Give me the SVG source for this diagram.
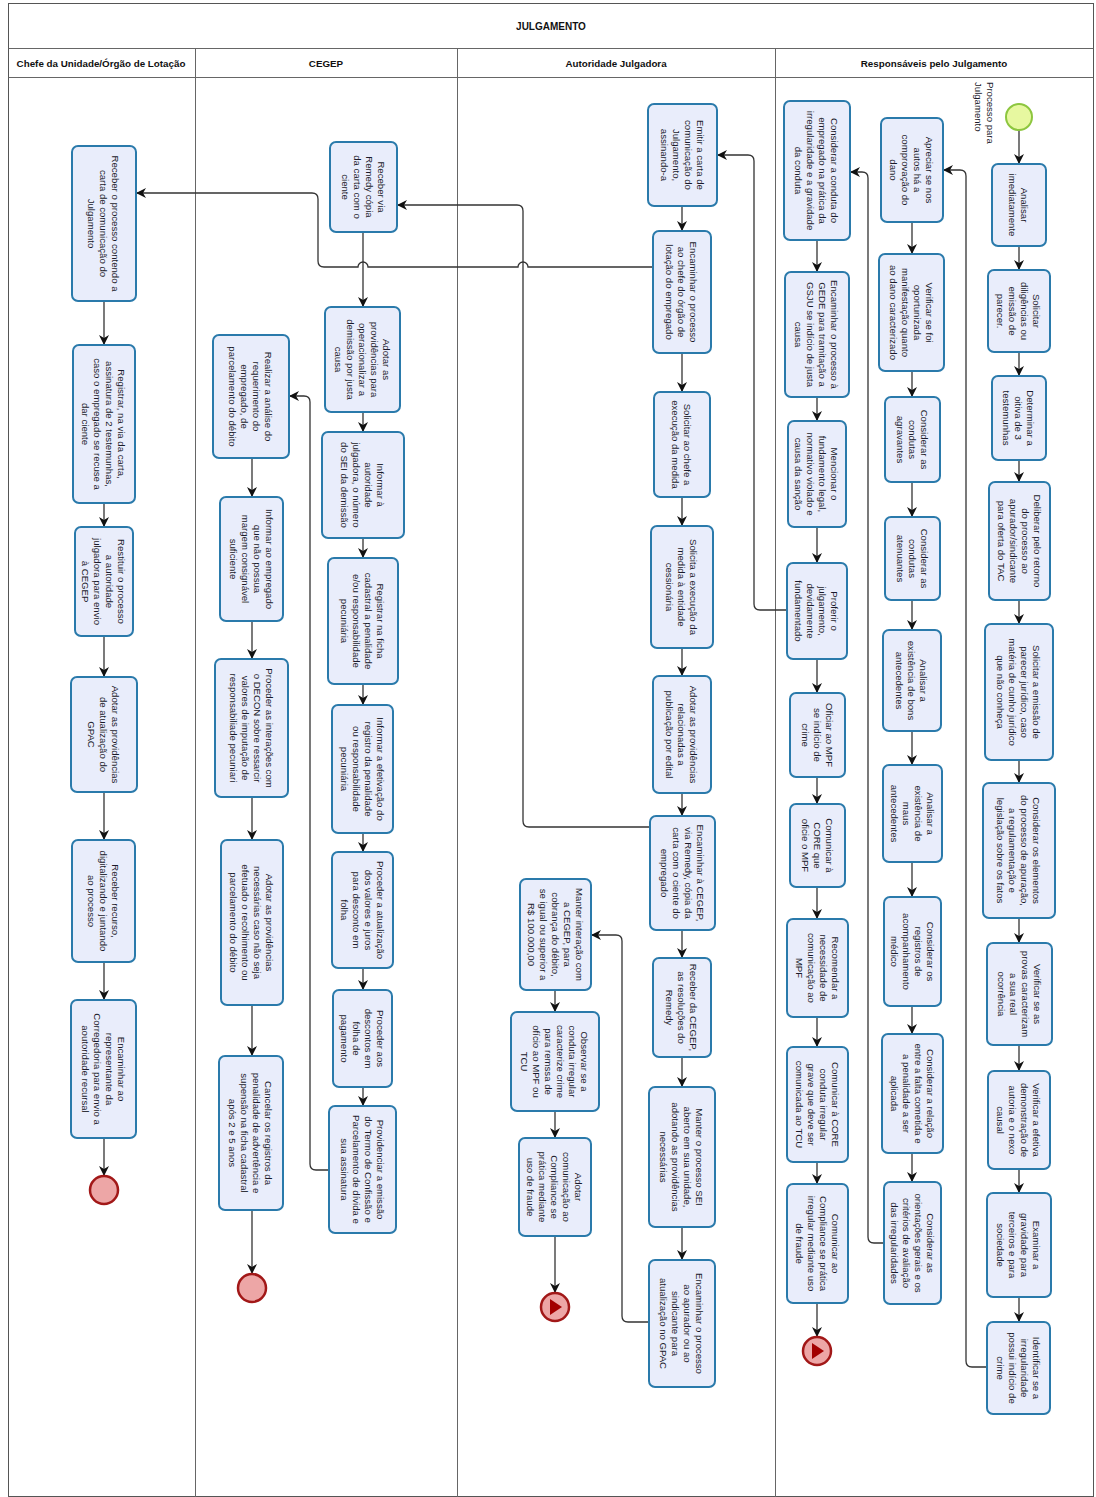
<svg xmlns="http://www.w3.org/2000/svg" width="1096" height="1497" viewBox="0 0 1096 1497">
<style>
.box{fill:#E9EDFB;stroke:#2A7AAB;stroke-width:2}
.t{font-family:"Liberation Sans",Arial,sans-serif;font-size:9.6px;fill:#1a1a2a;text-anchor:middle;dominant-baseline:central}
.h{font-family:"Liberation Sans",Arial,sans-serif;font-size:9.8px;font-weight:bold;fill:#111;text-anchor:middle;dominant-baseline:central}
.lane{stroke:#666;stroke-width:1;fill:none}
.c{stroke:#333;stroke-width:1.3;fill:none;marker-end:url(#ah)}
.end{fill:#EDA6A6;stroke:#A21818;stroke-width:2.5}
.tri{fill:#A30000}
</style>
<defs>
<marker id="ah" viewBox="0 0 10 10" refX="10" refY="5" markerWidth="10" markerHeight="10" orient="auto" markerUnits="userSpaceOnUse">
<path d="M0,0 L10,5 L0,10 L3,5 z" fill="#111"/>
</marker>
</defs>
<rect x="0" y="0" width="1096" height="1497" fill="#fff"/>
<g id="pool">
<rect x="8.5" y="3.5" width="1085" height="1493" fill="none" stroke="#555" stroke-width="1"/>
<line class="lane" x1="8.5" y1="48.5" x2="1093.5" y2="48.5"/>
<line class="lane" x1="8.5" y1="77.5" x2="1093.5" y2="77.5"/>
<line class="lane" x1="195.5" y1="48.5" x2="195.5" y2="1497"/>
<line class="lane" x1="457.5" y1="48.5" x2="457.5" y2="1497"/>
<line class="lane" x1="775.5" y1="48.5" x2="775.5" y2="1497"/>
<text class="h" x="551" y="26" style="font-size:10px">JULGAMENTO</text>
<text class="h" x="101" y="63">Chefe da Unidade/Órgão de Lotação</text>
<text class="h" x="326" y="63">CEGEP</text>
<text class="h" x="616" y="63">Autoridade Julgadora</text>
<text class="h" x="934" y="63">Responsáveis pelo Julgamento</text>
</g>

<g id="connectors">
<path class="c" d="M104,301 V345"/>
<path class="c" d="M104,503 V527"/>
<path class="c" d="M104,636 V677"/>
<path class="c" d="M104,792 V840"/>
<path class="c" d="M104,962 V1000"/>
<path class="c" d="M104,1138 V1176"/>
<path class="c" d="M363,232 V307"/>
<path class="c" d="M363,412 V432"/>
<path class="c" d="M363,538 V558"/>
<path class="c" d="M363,684 V705"/>
<path class="c" d="M363,833 V852"/>
<path class="c" d="M363,968 V990"/>
<path class="c" d="M363,1087 V1106"/>
<path class="c" d="M252,458 V497"/>
<path class="c" d="M252,621 V659"/>
<path class="c" d="M252,797 V840"/>
<path class="c" d="M252,1005 V1056"/>
<path class="c" d="M252,1210 V1274"/>
<path class="c" d="M682,206 V231"/>
<path class="c" d="M682,353 V392"/>
<path class="c" d="M682,497 V526"/>
<path class="c" d="M682,648 V676"/>
<path class="c" d="M682,793 V816"/>
<path class="c" d="M682,930 V958"/>
<path class="c" d="M682,1057 V1087"/>
<path class="c" d="M682,1227 V1260"/>
<path class="c" d="M555,990 V1012"/>
<path class="c" d="M555,1111 V1138"/>
<path class="c" d="M555,1236 V1293"/>
<path class="c" d="M1019,130 V164"/>
<path class="c" d="M1019,246 V270"/>
<path class="c" d="M1019,352 V376"/>
<path class="c" d="M1019,460 V482"/>
<path class="c" d="M1019,600 V624"/>
<path class="c" d="M1019,760 V783"/>
<path class="c" d="M1019,918 V943"/>
<path class="c" d="M1019,1045 V1071"/>
<path class="c" d="M1019,1169 V1193"/>
<path class="c" d="M1019,1297 V1322"/>
<path class="c" d="M912,222 V254"/>
<path class="c" d="M912,371 V397"/>
<path class="c" d="M912,482 V517"/>
<path class="c" d="M912,600 V630"/>
<path class="c" d="M912,731 V765"/>
<path class="c" d="M912,862 V897"/>
<path class="c" d="M912,1006 V1034"/>
<path class="c" d="M912,1153 V1182"/>
<path class="c" d="M817,240 V272"/>
<path class="c" d="M817,397 V421"/>
<path class="c" d="M817,527 V563"/>
<path class="c" d="M817,659 V693"/>
<path class="c" d="M817,777 V804"/>
<path class="c" d="M817,887 V919"/>
<path class="c" d="M817,1017 V1047"/>
<path class="c" d="M817,1162 V1184"/>
<path class="c" d="M817,1303 V1337"/>
<path class="c" d="M653,267 H528 A5,5 0 0 0 518,267 H368 A5,5 0 0 0 358,267 H324 Q318,267 318,261 V199 Q318,193 312,193 H136"/>
<path class="c" d="M650,827 H529 Q523,827 523,821 V211 Q523,205 517,205 H397"/>
<path class="c" d="M649,1322 H628 Q622,1322 622,1316 V941 Q622,935 616,935 H591"/>
<path class="c" d="M329,1170 H316 Q310,1170 310,1164 V402 Q310,396 304,396 H289"/>
<path class="c" d="M787,610 H760 Q754,610 754,604 V161 Q754,155 748,155 H717"/>
<path class="c" d="M987,1367 H972 Q966,1367 966,1361 V176 Q966,170 960,170 H943"/>
<path class="c" d="M884,1243 H874 Q868,1243 868,1237 V178 Q868,172 862,172 H850"/>
</g>

<g id="N1"><rect class="box" x="72" y="146" width="64" height="155" rx="6"/><text class="t" transform="translate(104 223.5) rotate(90)"><tspan x="0" y="-12">Receber o processo contendo a</tspan><tspan x="0" y="0">carta de comunicação do</tspan><tspan x="0" y="12">Julgamento</tspan></text></g>
<g id="N2"><rect class="box" x="73" y="345" width="62" height="158" rx="6"/><text class="t" transform="translate(104 424) rotate(90)"><tspan x="0" y="-18">Registrar, na via da carta,</tspan><tspan x="0" y="-6">assinatura de 2 testemunhas,</tspan><tspan x="0" y="6">caso o empregado se recuse a</tspan><tspan x="0" y="18">dar ciente</tspan></text></g>
<g id="N3"><rect class="box" x="75" y="527" width="58" height="109" rx="6"/><text class="t" transform="translate(104 581.5) rotate(90)"><tspan x="0" y="-18">Restituir o processo</tspan><tspan x="0" y="-6">a autoridade</tspan><tspan x="0" y="6">julgadora para envio</tspan><tspan x="0" y="18">à CEGEP</tspan></text></g>
<g id="N4"><rect class="box" x="71" y="677" width="66" height="115" rx="6"/><text class="t" transform="translate(104 734.5) rotate(90)"><tspan x="0" y="-12">Adotar as providências</tspan><tspan x="0" y="0">de atualização do</tspan><tspan x="0" y="12">GPAC</tspan></text></g>
<g id="N5"><rect class="box" x="72" y="840" width="63" height="122" rx="6"/><text class="t" transform="translate(103.5 901) rotate(90)"><tspan x="0" y="-12">Receber recurso,</tspan><tspan x="0" y="0">digitalizando e juntando</tspan><tspan x="0" y="12">ao processo</tspan></text></g>
<g id="N6"><rect class="box" x="71" y="1000" width="65" height="138" rx="6"/><text class="t" transform="translate(103.5 1069) rotate(90)"><tspan x="0" y="-18">Encaminhar ao</tspan><tspan x="0" y="-6">representante da</tspan><tspan x="0" y="6">Corregedoria para envio a</tspan><tspan x="0" y="18">aoutoridade recursal</tspan></text></g>
<g id="E1"><circle class="end" cx="104" cy="1190" r="14"/></g>

<g id="C1"><rect class="box" x="330" y="142" width="67" height="90" rx="6"/><text class="t" transform="translate(363.5 187) rotate(90)"><tspan x="0" y="-18">Receber via</tspan><tspan x="0" y="-6">Remedy cópia</tspan><tspan x="0" y="6">da carta com o</tspan><tspan x="0" y="18">ciente</tspan></text></g>
<g id="C2"><rect class="box" x="325" y="307" width="75" height="105" rx="6"/><text class="t" transform="translate(362.5 359.5) rotate(90)"><tspan x="0" y="-24">Adotar as</tspan><tspan x="0" y="-12">providências para</tspan><tspan x="0" y="0">operacionalizar a</tspan><tspan x="0" y="12">demissão por justa</tspan><tspan x="0" y="24">causa</tspan></text></g>
<g id="C3"><rect class="box" x="322" y="432" width="82" height="106" rx="6"/><text class="t" transform="translate(363 485) rotate(90)"><tspan x="0" y="-18">Informar à</tspan><tspan x="0" y="-6">autoridade</tspan><tspan x="0" y="6">julgadora, o número</tspan><tspan x="0" y="18">do SEI da demissão</tspan></text></g>
<g id="C4"><rect class="box" x="328" y="558" width="70" height="126" rx="6"/><text class="t" transform="translate(363 621) rotate(90)"><tspan x="0" y="-18">Registrar na ficha</tspan><tspan x="0" y="-6">cadastral a penalidade</tspan><tspan x="0" y="6">e/ou responsabilidade</tspan><tspan x="0" y="18">pecuniária</tspan></text></g>
<g id="C5"><rect class="box" x="332" y="705" width="61" height="128" rx="6"/><text class="t" transform="translate(362.5 769) rotate(90)"><tspan x="0" y="-18">Informar a efetivação do</tspan><tspan x="0" y="-6">registro da penalidade</tspan><tspan x="0" y="6">ou responsabilidade</tspan><tspan x="0" y="18">pecuniária</tspan></text></g>
<g id="C6"><rect class="box" x="332" y="852" width="61" height="116" rx="6"/><text class="t" transform="translate(362.5 910) rotate(90)"><tspan x="0" y="-18">Proceder a atualização</tspan><tspan x="0" y="-6">dos valores e juros</tspan><tspan x="0" y="6">para desconto em</tspan><tspan x="0" y="18">folha</tspan></text></g>
<g id="C7"><rect class="box" x="333" y="990" width="59" height="97" rx="6"/><text class="t" transform="translate(362.5 1038.5) rotate(90)"><tspan x="0" y="-18">Proceder aos</tspan><tspan x="0" y="-6">descontos em</tspan><tspan x="0" y="6">folha de</tspan><tspan x="0" y="18">pagamento</tspan></text></g>
<g id="C8"><rect class="box" x="329" y="1106" width="67" height="127" rx="6"/><text class="t" transform="translate(362.5 1169.5) rotate(90)"><tspan x="0" y="-18">Providenciar a emissão</tspan><tspan x="0" y="-6">do Termo de Confissão e</tspan><tspan x="0" y="6">Parcelamento de dívida e</tspan><tspan x="0" y="18">sua assinatura</tspan></text></g>
<g id="L1"><rect class="box" x="213" y="335" width="76" height="123" rx="6"/><text class="t" transform="translate(251 396.5) rotate(90)"><tspan x="0" y="-18">Realizar a análise do</tspan><tspan x="0" y="-6">requerimento do</tspan><tspan x="0" y="6">empregado, de</tspan><tspan x="0" y="18">parcelamento do débito</tspan></text></g>
<g id="L2"><rect class="box" x="220" y="497" width="63" height="124" rx="6"/><text class="t" transform="translate(251.5 559) rotate(90)"><tspan x="0" y="-18">Informar ao empregado</tspan><tspan x="0" y="-6">que não possua</tspan><tspan x="0" y="6">margem consignável</tspan><tspan x="0" y="18">suficiente</tspan></text></g>
<g id="L3"><rect class="box" x="215" y="659" width="73" height="138" rx="6"/><text class="t" transform="translate(251.5 728) rotate(90)"><tspan x="0" y="-18">Proceder as interações com</tspan><tspan x="0" y="-6">o DECON sobre ressarcir</tspan><tspan x="0" y="6">valores de imputação de</tspan><tspan x="0" y="18">responsabiliade pecuniari</tspan></text></g>
<g id="L4"><rect class="box" x="221" y="840" width="62" height="165" rx="6"/><text class="t" transform="translate(252 922.5) rotate(90)"><tspan x="0" y="-18">Adotar as providências</tspan><tspan x="0" y="-6">necessárias caso não seja</tspan><tspan x="0" y="6">efetuado o recolhimento ou</tspan><tspan x="0" y="18">parcelamento do débito</tspan></text></g>
<g id="L5"><rect class="box" x="219" y="1056" width="64" height="154" rx="6"/><text class="t" transform="translate(251 1133) rotate(90)"><tspan x="0" y="-18">Cancelar os registros da</tspan><tspan x="0" y="-6">penalidade de advertência e</tspan><tspan x="0" y="6">supensão na ficha cadastral</tspan><tspan x="0" y="18">após 2 e 5 anos</tspan></text></g>
<g id="E2"><circle class="end" cx="252" cy="1288" r="14"/></g>

<g id="A1"><rect class="box" x="648" y="104" width="69" height="102" rx="6"/><text class="t" transform="translate(682.5 155) rotate(90)"><tspan x="0" y="-18">Emitir a carta de</tspan><tspan x="0" y="-6">comunicação do</tspan><tspan x="0" y="6">Julgamento,</tspan><tspan x="0" y="18">assinando-a</tspan></text></g>
<g id="A2"><rect class="box" x="653" y="231" width="58" height="122" rx="6"/><text class="t" transform="translate(682 292) rotate(90)"><tspan x="0" y="-12">Encaminhar o processo</tspan><tspan x="0" y="0">ao chefe do órgão de</tspan><tspan x="0" y="12">lotação do empregado</tspan></text></g>
<g id="A3"><rect class="box" x="654" y="392" width="56" height="105" rx="6"/><text class="t" transform="translate(682 444.5) rotate(90)"><tspan x="0" y="-6">Solicitar ao chefe a</tspan><tspan x="0" y="6">execução da medida</tspan></text></g>
<g id="A4"><rect class="box" x="651" y="526" width="62" height="122" rx="6"/><text class="t" transform="translate(682 587) rotate(90)"><tspan x="0" y="-12">Solicita a execução da</tspan><tspan x="0" y="0">medida à entidade</tspan><tspan x="0" y="12">cessionária</tspan></text></g>
<g id="A5"><rect class="box" x="653" y="676" width="58" height="117" rx="6"/><text class="t" transform="translate(682 734.5) rotate(90)"><tspan x="0" y="-12">Adotar as providências</tspan><tspan x="0" y="0">relacionadas a</tspan><tspan x="0" y="12">publicação por edital</tspan></text></g>
<g id="A6"><rect class="box" x="650" y="816" width="65" height="114" rx="6"/><text class="t" transform="translate(682.5 873) rotate(90)"><tspan x="0" y="-18">Encaminhar à CEGEP,</tspan><tspan x="0" y="-6">via Remedy, cópia da</tspan><tspan x="0" y="6">carta com o ciente do</tspan><tspan x="0" y="18">empregado</tspan></text></g>
<g id="A7"><rect class="box" x="653" y="958" width="58" height="99" rx="6"/><text class="t" transform="translate(682 1007.5) rotate(90)"><tspan x="0" y="-12">Receber da CEGEP,</tspan><tspan x="0" y="0">as resoluções do</tspan><tspan x="0" y="12">Remedy</tspan></text></g>
<g id="A8"><rect class="box" x="649" y="1087" width="66" height="140" rx="6"/><text class="t" transform="translate(682 1157) rotate(90)"><tspan x="0" y="-18">Manter o processo SEI</tspan><tspan x="0" y="-6">aberto em sua unidade,</tspan><tspan x="0" y="6">adotando as providências</tspan><tspan x="0" y="18">necessárias</tspan></text></g>
<g id="A9"><rect class="box" x="649" y="1260" width="66" height="127" rx="6"/><text class="t" transform="translate(682 1323.5) rotate(90)"><tspan x="0" y="-18">Encaminhar o processo</tspan><tspan x="0" y="-6">ao apurador ou ao</tspan><tspan x="0" y="6">sindicante para</tspan><tspan x="0" y="18">atualização no GPAC</tspan></text></g>
<g id="B1"><rect class="box" x="520" y="879" width="71" height="111" rx="6"/><text class="t" transform="translate(555.5 934.5) rotate(90)"><tspan x="0" y="-24">Manter interação com</tspan><tspan x="0" y="-12">a CEGEP, para</tspan><tspan x="0" y="0">cobrança do débito,</tspan><tspan x="0" y="12">se igual ou superior a</tspan><tspan x="0" y="24">R$ 100.000,00</tspan></text></g>
<g id="B2"><rect class="box" x="511" y="1012" width="88" height="99" rx="6"/><text class="t" transform="translate(555 1061.5) rotate(90)"><tspan x="0" y="-30">Observar se a</tspan><tspan x="0" y="-18">conduta irregular</tspan><tspan x="0" y="-6">caracterize crime</tspan><tspan x="0" y="6">para remssa de</tspan><tspan x="0" y="18">ofício ao MPF ou</tspan><tspan x="0" y="30">TCU</tspan></text></g>
<g id="B3"><rect class="box" x="519" y="1138" width="72" height="98" rx="6"/><text class="t" transform="translate(555 1187) rotate(90)"><tspan x="0" y="-24">Adotar</tspan><tspan x="0" y="-12">comunicação ao</tspan><tspan x="0" y="0">Compliance se</tspan><tspan x="0" y="12">prática mediante</tspan><tspan x="0" y="24">uso de fraude</tspan></text></g>
<g id="E3"><circle class="end" cx="555" cy="1307" r="14"/><path class="tri" d="M550,1299 L562,1307 L550,1315 z"/></g>

<g id="S"><circle cx="1019" cy="117" r="13" fill="#E7F8A0" stroke="#8DC63F" stroke-width="2"/><text class="t" style="text-anchor:start" transform="translate(991 82) rotate(90)"><tspan x="0" y="0">Processo para</tspan><tspan x="0" y="12">Julgamento</tspan></text></g>
<g id="R1"><rect class="box" x="992" y="164" width="54" height="82" rx="6"/><text class="t" transform="translate(1019 205) rotate(90)"><tspan x="0" y="-6">Analisar</tspan><tspan x="0" y="6">imediatamente</tspan></text></g>
<g id="R2"><rect class="box" x="988" y="270" width="62" height="82" rx="6"/><text class="t" transform="translate(1019 311) rotate(90)"><tspan x="0" y="-18">Solicitar</tspan><tspan x="0" y="-6">diligências ou</tspan><tspan x="0" y="6">emissão de</tspan><tspan x="0" y="18">parecer.</tspan></text></g>
<g id="R3"><rect class="box" x="992" y="376" width="54" height="84" rx="6"/><text class="t" transform="translate(1019 418) rotate(90)"><tspan x="0" y="-12">Determinar a</tspan><tspan x="0" y="0">oitiva de 3</tspan><tspan x="0" y="12">testemunhas</tspan></text></g>
<g id="R4"><rect class="box" x="989" y="482" width="61" height="118" rx="6"/><text class="t" transform="translate(1019.5 541) rotate(90)"><tspan x="0" y="-18">Deliberar pelo retorno</tspan><tspan x="0" y="-6">do processo ao</tspan><tspan x="0" y="6">apurador/sindicante</tspan><tspan x="0" y="18">para oferta do TAC</tspan></text></g>
<g id="R5"><rect class="box" x="985" y="624" width="68" height="136" rx="6"/><text class="t" transform="translate(1019 692) rotate(90)"><tspan x="0" y="-18">Solicitar a emissão de</tspan><tspan x="0" y="-6">parecer jurídico, caso</tspan><tspan x="0" y="6">matéria de cunho jurídico</tspan><tspan x="0" y="18">que não conheça</tspan></text></g>
<g id="R6"><rect class="box" x="983" y="783" width="72" height="135" rx="6"/><text class="t" transform="translate(1019 850.5) rotate(90)"><tspan x="0" y="-18">Considerar os elementos</tspan><tspan x="0" y="-6">do processo de apuração,</tspan><tspan x="0" y="6">a regulamentação e</tspan><tspan x="0" y="18">legislação sobre os fatos</tspan></text></g>
<g id="R7"><rect class="box" x="987" y="943" width="65" height="102" rx="6"/><text class="t" transform="translate(1019.5 994) rotate(90)"><tspan x="0" y="-18">Verificar se as</tspan><tspan x="0" y="-6">provas caracterizam</tspan><tspan x="0" y="6">a sua real</tspan><tspan x="0" y="18">ocorrência</tspan></text></g>
<g id="R8"><rect class="box" x="988" y="1071" width="62" height="98" rx="6"/><text class="t" transform="translate(1019 1120) rotate(90)"><tspan x="0" y="-18">Verificar a efetiva</tspan><tspan x="0" y="-6">demonstração de</tspan><tspan x="0" y="6">autoria e o nexo</tspan><tspan x="0" y="18">causal</tspan></text></g>
<g id="R9"><rect class="box" x="987" y="1193" width="64" height="104" rx="6"/><text class="t" transform="translate(1019 1245) rotate(90)"><tspan x="0" y="-18">Examinar a</tspan><tspan x="0" y="-6">gravidade para</tspan><tspan x="0" y="6">terceiros e para</tspan><tspan x="0" y="18">sociedade</tspan></text></g>
<g id="R10"><rect class="box" x="987" y="1322" width="63" height="92" rx="6"/><text class="t" transform="translate(1018.5 1368) rotate(90)"><tspan x="0" y="-18">Identificar se a</tspan><tspan x="0" y="-6">irregularidade</tspan><tspan x="0" y="6">possui indício de</tspan><tspan x="0" y="18">crime</tspan></text></g>
<g id="Q1"><rect class="box" x="881" y="118" width="62" height="104" rx="6"/><text class="t" transform="translate(912 170) rotate(90)"><tspan x="0" y="-18">Apreciar se nos</tspan><tspan x="0" y="-6">autos há a</tspan><tspan x="0" y="6">comprovação do</tspan><tspan x="0" y="18">dano</tspan></text></g>
<g id="Q2"><rect class="box" x="879" y="254" width="65" height="117" rx="6"/><text class="t" transform="translate(911.5 312.5) rotate(90)"><tspan x="0" y="-18">Verificar se foi</tspan><tspan x="0" y="-6">oportunizada</tspan><tspan x="0" y="6">manifestação quanto</tspan><tspan x="0" y="18">ao dano caracterizado</tspan></text></g>
<g id="Q3"><rect class="box" x="885" y="397" width="55" height="85" rx="6"/><text class="t" transform="translate(912.5 439.5) rotate(90)"><tspan x="0" y="-12">Considerar as</tspan><tspan x="0" y="0">condutas</tspan><tspan x="0" y="12">agravantes</tspan></text></g>
<g id="Q4"><rect class="box" x="885" y="517" width="55" height="83" rx="6"/><text class="t" transform="translate(912.5 558.5) rotate(90)"><tspan x="0" y="-12">Considerar as</tspan><tspan x="0" y="0">condutas</tspan><tspan x="0" y="12">atenuantes</tspan></text></g>
<g id="Q5"><rect class="box" x="883" y="630" width="58" height="101" rx="6"/><text class="t" transform="translate(912 680.5) rotate(90)"><tspan x="0" y="-12">Analisar a</tspan><tspan x="0" y="0">existência de bons</tspan><tspan x="0" y="12">antecedentes</tspan></text></g>
<g id="Q6"><rect class="box" x="883" y="765" width="59" height="97" rx="6"/><text class="t" transform="translate(912.5 813.5) rotate(90)"><tspan x="0" y="-18">Analisar a</tspan><tspan x="0" y="-6">existência de</tspan><tspan x="0" y="6">maus</tspan><tspan x="0" y="18">antecedentes</tspan></text></g>
<g id="Q7"><rect class="box" x="884" y="897" width="57" height="109" rx="6"/><text class="t" transform="translate(912.5 951.5) rotate(90)"><tspan x="0" y="-18">Considerar os</tspan><tspan x="0" y="-6">registros de</tspan><tspan x="0" y="6">acompanhamento</tspan><tspan x="0" y="18">médico</tspan></text></g>
<g id="Q8"><rect class="box" x="882" y="1034" width="61" height="119" rx="6"/><text class="t" transform="translate(912.5 1093.5) rotate(90)"><tspan x="0" y="-18">Considerar a relação</tspan><tspan x="0" y="-6">entre a falta cometida e</tspan><tspan x="0" y="6">a penalidade a ser</tspan><tspan x="0" y="18">aplicada</tspan></text></g>
<g id="Q9"><rect class="box" x="884" y="1182" width="57" height="122" rx="6"/><text class="t" transform="translate(912.5 1243) rotate(90)"><tspan x="0" y="-18">Considerar as</tspan><tspan x="0" y="-6">orientações gerais e os</tspan><tspan x="0" y="6">critérios de avaliação</tspan><tspan x="0" y="18">das irregularidades</tspan></text></g>
<g id="P1"><rect class="box" x="784" y="101" width="66" height="139" rx="6"/><text class="t" transform="translate(817 170.5) rotate(90)"><tspan x="0" y="-18">Considerar a conduta do</tspan><tspan x="0" y="-6">empregado na prática da</tspan><tspan x="0" y="6">irregularidade e a gravidade</tspan><tspan x="0" y="18">da conduta</tspan></text></g>
<g id="P2"><rect class="box" x="785" y="272" width="64" height="125" rx="6"/><text class="t" transform="translate(817 334.5) rotate(90)"><tspan x="0" y="-18">Encaminhar o processo à</tspan><tspan x="0" y="-6">GEDE para tramitação a</tspan><tspan x="0" y="6">GSJU se indício de justa</tspan><tspan x="0" y="18">causa</tspan></text></g>
<g id="P3"><rect class="box" x="788" y="421" width="58" height="106" rx="6"/><text class="t" transform="translate(817 474) rotate(90)"><tspan x="0" y="-18">Mencionar o</tspan><tspan x="0" y="-6">fundamento legal,</tspan><tspan x="0" y="6">normativo violado e</tspan><tspan x="0" y="18">causa da sanção</tspan></text></g>
<g id="P4"><rect class="box" x="787" y="563" width="60" height="96" rx="6"/><text class="t" transform="translate(817 611) rotate(90)"><tspan x="0" y="-18">Proferir o</tspan><tspan x="0" y="-6">julgamento,</tspan><tspan x="0" y="6">devidamente</tspan><tspan x="0" y="18">fundamentado</tspan></text></g>
<g id="P5"><rect class="box" x="790" y="693" width="55" height="84" rx="6"/><text class="t" transform="translate(817.5 735) rotate(90)"><tspan x="0" y="-12">Oficiar ao MPF</tspan><tspan x="0" y="0">se indício de</tspan><tspan x="0" y="12">crime</tspan></text></g>
<g id="P6"><rect class="box" x="790" y="804" width="55" height="83" rx="6"/><text class="t" transform="translate(817.5 845.5) rotate(90)"><tspan x="0" y="-12">Comunicar à</tspan><tspan x="0" y="0">CORE que</tspan><tspan x="0" y="12">oficie o MPF</tspan></text></g>
<g id="P7"><rect class="box" x="787" y="919" width="61" height="98" rx="6"/><text class="t" transform="translate(817.5 968) rotate(90)"><tspan x="0" y="-18">Recomendar a</tspan><tspan x="0" y="-6">necessidade de</tspan><tspan x="0" y="6">comunicação ao</tspan><tspan x="0" y="18">MPF</tspan></text></g>
<g id="P8"><rect class="box" x="787" y="1047" width="61" height="115" rx="6"/><text class="t" transform="translate(817.5 1104.5) rotate(90)"><tspan x="0" y="-18">Comunicar à CORE</tspan><tspan x="0" y="-6">conduta irregular</tspan><tspan x="0" y="6">grave que deve ser</tspan><tspan x="0" y="18">comunicada ao TCU</tspan></text></g>
<g id="P9"><rect class="box" x="787" y="1184" width="61" height="119" rx="6"/><text class="t" transform="translate(817.5 1243.5) rotate(90)"><tspan x="0" y="-18">Comunicar ao</tspan><tspan x="0" y="-6">Compliance se prática</tspan><tspan x="0" y="6">irregular mediante uso</tspan><tspan x="0" y="18">de fraude</tspan></text></g>
<g id="E4"><circle class="end" cx="817" cy="1351" r="14"/><path class="tri" d="M812,1343 L824,1351 L812,1359 z"/></g>
</svg>
